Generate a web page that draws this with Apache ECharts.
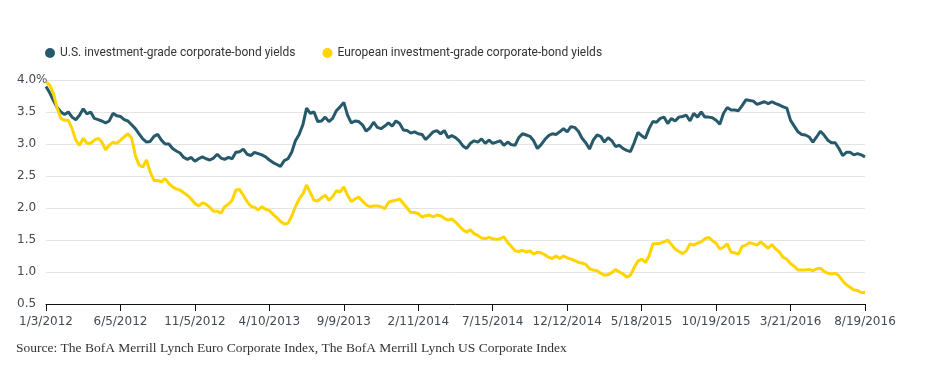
<!DOCTYPE html>
<html>
<head>
<meta charset="utf-8">
<script src="https://cdn.jsdelivr.net/npm/echarts@6/dist/echarts.min.js"></script>
<style>
html,body{margin:0;padding:0;background:#fff;}
#chart{width:934px;height:378px;}
</style>
</head>
<body>
<div id="chart"></div>
<script>
// x tick labels (dates), one every 20 sample steps
var dateLabels = ['1/3/2012','6/5/2012','11/5/2012','4/10/2013','9/9/2013','2/11/2014','7/15/2014','12/12/2014','5/18/2015','10/19/2015','3/21/2016','8/19/2016'];
var yTickLabels = ['0.5','1.0','1.5','2.0','2.5','3.0','3.5','4.0%'];
var seriesNames = ['U.S. investment-grade corporate-bond yields','European investment-grade corporate-bond yields'];

// U.S. investment-grade corporate-bond yields (%), sampled evenly from 1/3/2012 to 8/19/2016
var usYields = [
3.90,3.80,3.68,3.57,3.50,3.46,3.50,3.42,3.38,3.45,3.55,3.47,3.50,3.40,3.38,3.36,3.33,3.36,3.48,3.44,
3.43,3.38,3.36,3.30,3.24,3.16,3.08,3.03,3.04,3.12,3.15,3.06,3.00,3.00,2.93,2.89,2.86,2.79,
2.76,2.79,2.73,2.77,2.80,2.77,2.75,2.78,2.84,2.78,2.76,2.79,2.77,2.87,2.88,2.92,2.84,2.82,2.87,2.85,
2.83,2.80,2.75,2.71,2.68,2.65,2.74,2.77,2.87,3.05,3.15,3.30,3.56,3.48,3.50,3.35,3.36,3.42,
3.35,3.40,3.52,3.58,3.65,3.45,3.33,3.36,3.35,3.30,3.20,3.25,3.34,3.26,3.24,3.28,3.33,3.28,3.36,3.32,
3.22,3.21,3.17,3.19,3.16,3.15,3.07,3.13,3.19,3.21,3.16,3.21,3.10,3.13,3.10,3.05,2.97,
2.93,3.01,3.05,3.03,3.08,3.01,3.06,3.01,3.03,3.05,2.98,3.03,2.99,2.98,3.10,3.16,3.14,3.12,3.05,2.93,
2.99,3.07,3.13,3.16,3.15,3.19,3.24,3.19,3.27,3.26,3.20,3.09,3.02,2.92,3.06,3.14,3.12,3.03,
3.10,3.05,2.96,2.98,2.93,2.90,2.88,3.02,3.18,3.13,3.09,3.24,3.35,3.34,3.40,3.42,3.32,3.40,3.36,3.42,
3.43,3.45,3.36,3.48,3.42,3.50,3.42,3.42,3.41,3.37,3.31,3.48,3.57,3.53,3.53,3.52,3.60,3.69,
3.68,3.67,3.62,3.64,3.66,3.63,3.66,3.63,3.61,3.58,3.56,3.37,3.28,3.19,3.15,3.14,3.11,3.03,3.11,3.20,
3.14,3.06,3.02,3.02,2.93,2.82,2.87,2.87,2.83,2.85,2.83,2.80
];

// European investment-grade corporate-bond yields (%), same sampling
var euYields = [
3.97,3.92,3.79,3.56,3.40,3.37,3.37,3.24,3.06,2.98,3.09,3.01,3.01,3.06,3.09,3.03,2.91,2.98,3.03,3.01,
3.06,3.11,3.16,3.09,2.82,2.67,2.64,2.75,2.56,2.43,2.43,2.41,2.46,2.38,2.33,2.30,2.28,2.24,
2.20,2.14,2.07,2.03,2.08,2.06,2.01,1.95,1.95,1.92,2.02,2.06,2.12,2.28,2.29,2.20,2.10,2.03,2.01,1.97,
2.02,1.98,1.96,1.90,1.85,1.79,1.75,1.76,1.87,2.02,2.14,2.22,2.36,2.24,2.12,2.11,2.16,2.20,
2.12,2.18,2.27,2.25,2.33,2.20,2.10,2.14,2.17,2.11,2.05,2.02,2.03,2.03,2.02,1.99,2.09,2.11,2.12,2.14,
2.07,2.00,1.93,1.93,1.91,1.86,1.88,1.89,1.86,1.89,1.88,1.84,1.81,1.83,1.78,1.72,1.66,
1.62,1.66,1.60,1.57,1.53,1.52,1.54,1.52,1.51,1.52,1.55,1.46,1.40,1.33,1.32,1.34,1.31,1.33,1.28,1.31,
1.30,1.27,1.23,1.21,1.25,1.21,1.25,1.22,1.20,1.18,1.15,1.14,1.12,1.05,1.03,1.02,0.98,0.95,
0.96,0.99,1.04,1.00,0.97,0.92,0.95,1.07,1.17,1.20,1.15,1.25,1.44,1.44,1.45,1.47,1.50,1.43,1.36,1.32,
1.29,1.33,1.44,1.42,1.45,1.47,1.52,1.54,1.49,1.45,1.36,1.39,1.44,1.31,1.30,1.28,1.40,1.42,
1.46,1.44,1.42,1.47,1.42,1.37,1.43,1.36,1.31,1.23,1.20,1.13,1.09,1.03,1.03,1.03,1.04,1.02,1.05,1.06,
1.01,0.98,0.97,0.98,0.94,0.86,0.80,0.76,0.72,0.71,0.68,0.68
];

var stepsPerLabel = 20;
function toPairs(arr){ return arr.map(function(v,i){ return [i, v]; }); }

var chart = echarts.init(document.getElementById('chart'), null, {renderer:'canvas'});
chart.setOption({
  animation:false,
  backgroundColor:'#ffffff',
  legend:{
    left:40, top:42,
    icon:'circle', itemWidth:10, itemHeight:10, itemGap:27,
    textStyle:{fontFamily:'Roboto', fontSize:12, color:'#333333'},
    data:seriesNames
  },
  graphic:[{
    type:'text', left:16, top:341,
    style:{text:'Source: The BofA Merrill Lynch Euro Corporate Index, The BofA Merrill Lynch US Corporate Index',
      font:'13.5px "Liberation Serif"', fill:'#333333'}
  }],
  grid:{left:46, right:69, top:80, bottom:74},
  xAxis:{
    type:'value', min:0, max:(dateLabels.length-1)*stepsPerLabel, interval:stepsPerLabel,
    axisLine:{show:true, lineStyle:{color:'#111111', width:1}},
    axisTick:{show:true, length:7, lineStyle:{color:'#111111'}},
    splitLine:{show:false},
    axisLabel:{margin:12, fontFamily:'DejaVu Sans', fontSize:12, color:'#434a55',
      formatter:function(v){ return dateLabels[Math.round(v/stepsPerLabel)] || ''; }}
  },
  yAxis:{
    type:'value', min:0.5, max:4, interval:0.5,
    axisLine:{show:false}, axisTick:{show:false},
    splitLine:{lineStyle:{color:'#e4e4e4', width:1}},
    axisLabel:{align:'left', margin:29, fontFamily:'DejaVu Sans', fontSize:12, color:'#434a55',
      formatter:function(v){ return yTickLabels[Math.round((v-0.5)/0.5)]; }}
  },
  series:[
    {name:seriesNames[0], type:'line', data:toPairs(usYields), showSymbol:false, symbol:'circle',
      itemStyle:{color:'#265a6b'}, lineStyle:{color:'#265a6b', width:3}, z:2},
    {name:seriesNames[1], type:'line', data:toPairs(euYields), showSymbol:false, symbol:'circle',
      itemStyle:{color:'#ffd400'}, lineStyle:{color:'#ffd400', width:3}, z:3}
  ]
});
</script>
</body>
</html>
